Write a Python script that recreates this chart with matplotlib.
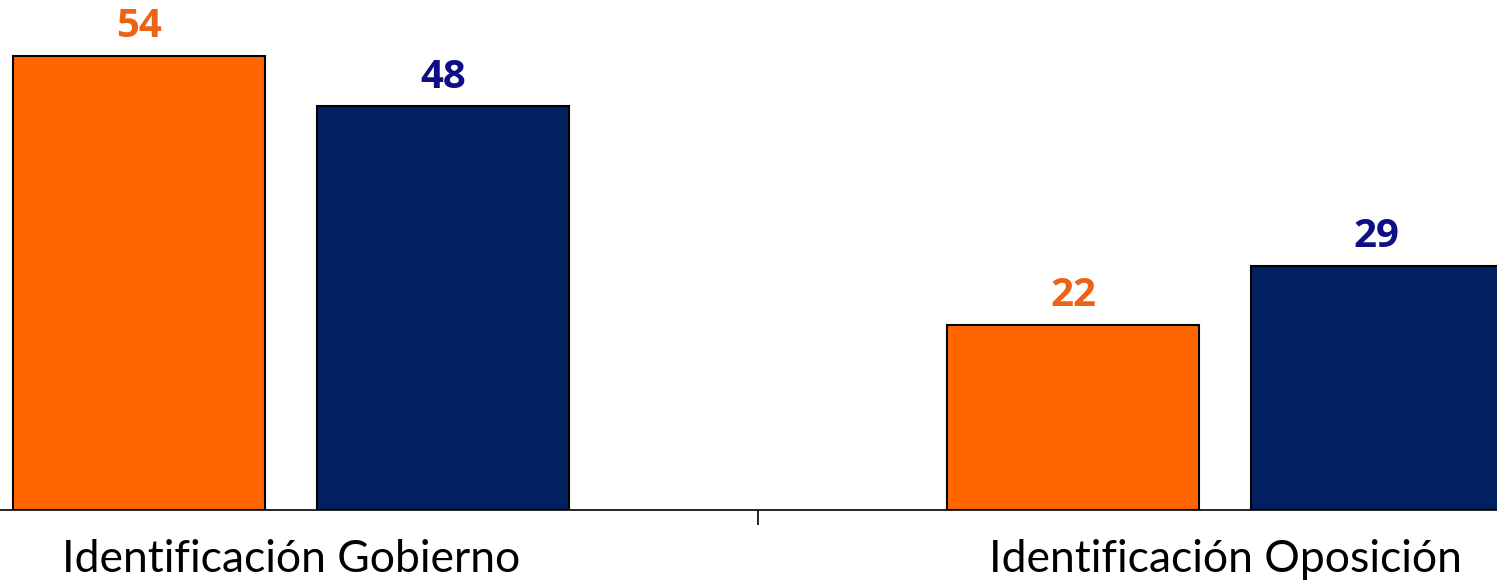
import matplotlib
matplotlib.use("Agg")
import matplotlib.pyplot as plt
import numpy as np

categories = ["Identificación Gobierno", "Identificación Oposición"]
series_a = [54, 22]
series_b = [48, 29]

W, H, DPI = 1497, 580, 100
fig = plt.figure(figsize=(W / DPI, H / DPI), dpi=DPI)
ax = fig.add_axes([0, 70 / H, 1, 1 - 70 / H])

x = np.arange(len(categories))
bw = 0.27
off = 0.1625
orange = "#FF6600"
navy = "#002060"
ax.bar(x - off, series_a, bw, color=orange, edgecolor="black", linewidth=1.5, zorder=3)
ax.bar(x + off, series_b, bw, color=navy, edgecolor="black", linewidth=1.5, zorder=3)

lab_kw = dict(textcoords="offset points", ha="center", va="baseline",
              fontsize=29, fontweight="bold", family="Open Sans")
for xi, v in zip(x - off, series_a):
    ax.annotate(str(v), (xi, v), xytext=(0, 13.5), color="#EB6317", **lab_kw)
for xi, v in zip(x + off, series_b):
    ax.annotate(str(v), (xi, v), xytext=(0, 13.5), color="#0F0F85", **lab_kw)

ax.set_xlim(-291 / 934, (W - 291) / 934)
ax.set_ylim(0, 510 / 8.41)

for s in ["top", "right", "left"]:
    ax.spines[s].set_visible(False)
ax.spines["bottom"].set_linewidth(1.2)
ax.set_yticks([])
ax.set_xticks([0.5])
ax.set_xticklabels([""])
ax.tick_params(axis="x", length=11, width=1.2, direction="out")
ax.set_xticks(x, minor=True)
ax.set_xticklabels(categories, minor=True, fontsize=32, family="Lato")
ax.tick_params(axis="x", which="minor", length=0, pad=21)

fig.savefig("out.png", dpi=DPI)
